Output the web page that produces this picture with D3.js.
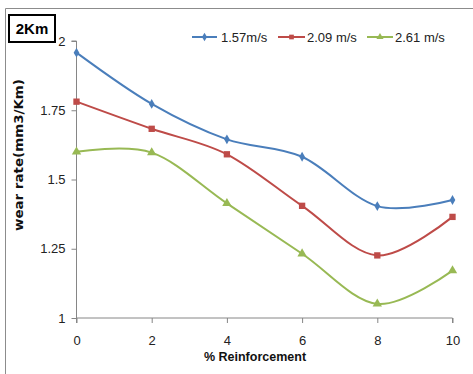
<!DOCTYPE html>
<html>
<head>
<meta charset="utf-8">
<script src="https://cdn.jsdelivr.net/npm/d3@7"></script>
<style>
  html, body { margin: 0; padding: 0; background: #fff; }
  svg { display: block; }
  text { font-family: "Liberation Sans Narrow", "Liberation Sans", Arial, sans-serif; }
</style>
</head>
<body>
<svg id="chart" width="473" height="374"></svg>
<script>
// Wear rate (mm3/Km) over 2 Km sliding distance vs % reinforcement
const reinforcement = [0, 2, 4, 6, 8, 10];
const speed157 = [1.958, 1.773, 1.645, 1.582, 1.404, 1.426];
const speed209 = [1.781, 1.683, 1.591, 1.405, 1.226, 1.365];
const speed261 = [1.600, 1.597, 1.414, 1.232, 1.051, 1.171];
const seriesNames = ["1.57m/s", "2.09 m/s", "2.61 m/s"];
const xTicks = [0, 2, 4, 6, 8, 10];
const yTicks = [1, 1.25, 1.5, 1.75, 2];

const series = [
  { name: seriesNames[0], values: speed157, color: "#4A7EBB", marker: "diamond" },
  { name: seriesNames[1], values: speed209, color: "#BE4B48", marker: "square" },
  { name: seriesNames[2], values: speed261, color: "#98B954", marker: "triangle" }
];

const svg = d3.select("#chart");

// frame around the chart area
svg.append("path")
  .attr("d", "M5.5,374 V8.5 H473")
  .attr("fill", "none").attr("stroke", "#8c8c8c").attr("stroke-width", 1);

const x = d3.scaleLinear().domain([0, 10]).range([76.5, 452.5]);
const y = d3.scaleLinear().domain([1, 2]).range([318, 41]);

const axisColor = "#868686";
const tickFont = "'Liberation Sans Narrow', 'Liberation Sans', Arial, sans-serif";

// y axis
const yAxis = svg.append("g").attr("transform", "translate(76.5,0)")
  .call(d3.axisLeft(y).tickValues(yTicks).tickSize(5).tickPadding(6)
    .tickFormat(d => d3.format("")(d)));
yAxis.select(".domain").attr("stroke", axisColor).attr("d", "M-5," + y(2) + "H0V" + y(1));
yAxis.selectAll(".tick line").attr("stroke", axisColor);
yAxis.selectAll(".tick text").attr("fill", "#222").attr("font-size", 13)
  .style("font-family", tickFont);

// x axis
const xAxis = svg.append("g").attr("transform", "translate(0,318)")
  .call(d3.axisBottom(x).tickValues(xTicks).tickSize(5).tickPadding(13));
xAxis.select(".domain").attr("stroke", axisColor).attr("d", "M" + x(0) + ",5V0H" + x(10) + "V5");
xAxis.selectAll(".tick line").attr("stroke", axisColor);
xAxis.selectAll(".tick text").attr("fill", "#222").attr("font-size", 13)
  .style("font-family", tickFont);

// axis titles
svg.append("text")
  .attr("x", 255).attr("y", 361)
  .attr("text-anchor", "middle")
  .attr("font-size", 12.5).attr("font-weight", "bold").attr("fill", "#111")
  .text("% Reinforcement");

svg.append("text")
  .attr("transform", "translate(23,155) rotate(-90)")
  .attr("text-anchor", "middle")
  .attr("font-size", 13).attr("font-weight", "bold").attr("fill", "#111")
  .attr("textLength", 152).attr("lengthAdjust", "spacingAndGlyphs")
  .style("font-family", "'DejaVu Sans', Verdana, sans-serif")
  .text("wear rate(mm3/Km)");

// distance label box
svg.append("rect")
  .attr("x", 9).attr("y", 15).attr("width", 46).attr("height", 27)
  .attr("fill", "#fff").attr("stroke", "#000").attr("stroke-width", 2);
svg.append("text")
  .attr("x", 32).attr("y", 34).attr("text-anchor", "middle")
  .attr("font-size", 15).attr("font-weight", "bold").attr("fill", "#000")
  .text("2Km");

// markers
const symbolType = { diamond: d3.symbolDiamond, square: d3.symbolSquare, triangle: d3.symbolTriangle };
const symbolSize = { diamond: 28, square: 40, triangle: 38 };

const line = d3.line()
  .x((d, i) => x(reinforcement[i]))
  .y(d => y(d))
  .curve(d3.curveCatmullRom.alpha(0));

const plot = svg.append("g");
series.forEach(s => {
  plot.append("path")
    .attr("d", line(s.values))
    .attr("fill", "none").attr("stroke", s.color).attr("stroke-width", 2);
  plot.selectAll(null).data(s.values).enter().append("path")
    .attr("transform", (d, i) => `translate(${x(reinforcement[i])},${y(d)})`)
    .attr("d", d3.symbol().type(symbolType[s.marker]).size(symbolSize[s.marker])())
    .attr("fill", s.color);
});

// legend
const legendItems = [
  { x0: 192, x1: 217, tx: 221 },
  { x0: 278, x1: 305, tx: 307 },
  { x0: 367, x1: 393, tx: 395 }
];
const legend = svg.append("g");
series.forEach((s, i) => {
  const p = legendItems[i];
  const ly = 37;
  legend.append("line")
    .attr("x1", p.x0).attr("x2", p.x1).attr("y1", ly).attr("y2", ly)
    .attr("stroke", s.color).attr("stroke-width", 2);
  legend.append("path")
    .attr("transform", `translate(${(p.x0 + p.x1) / 2},${ly})`)
    .attr("d", d3.symbol().type(symbolType[s.marker]).size(22)())
    .attr("fill", s.color);
  legend.append("text")
    .attr("x", p.tx).attr("y", ly + 5)
    .attr("font-size", 13).attr("fill", "#222")
    .text(s.name);
});
</script>
</body>
</html>
